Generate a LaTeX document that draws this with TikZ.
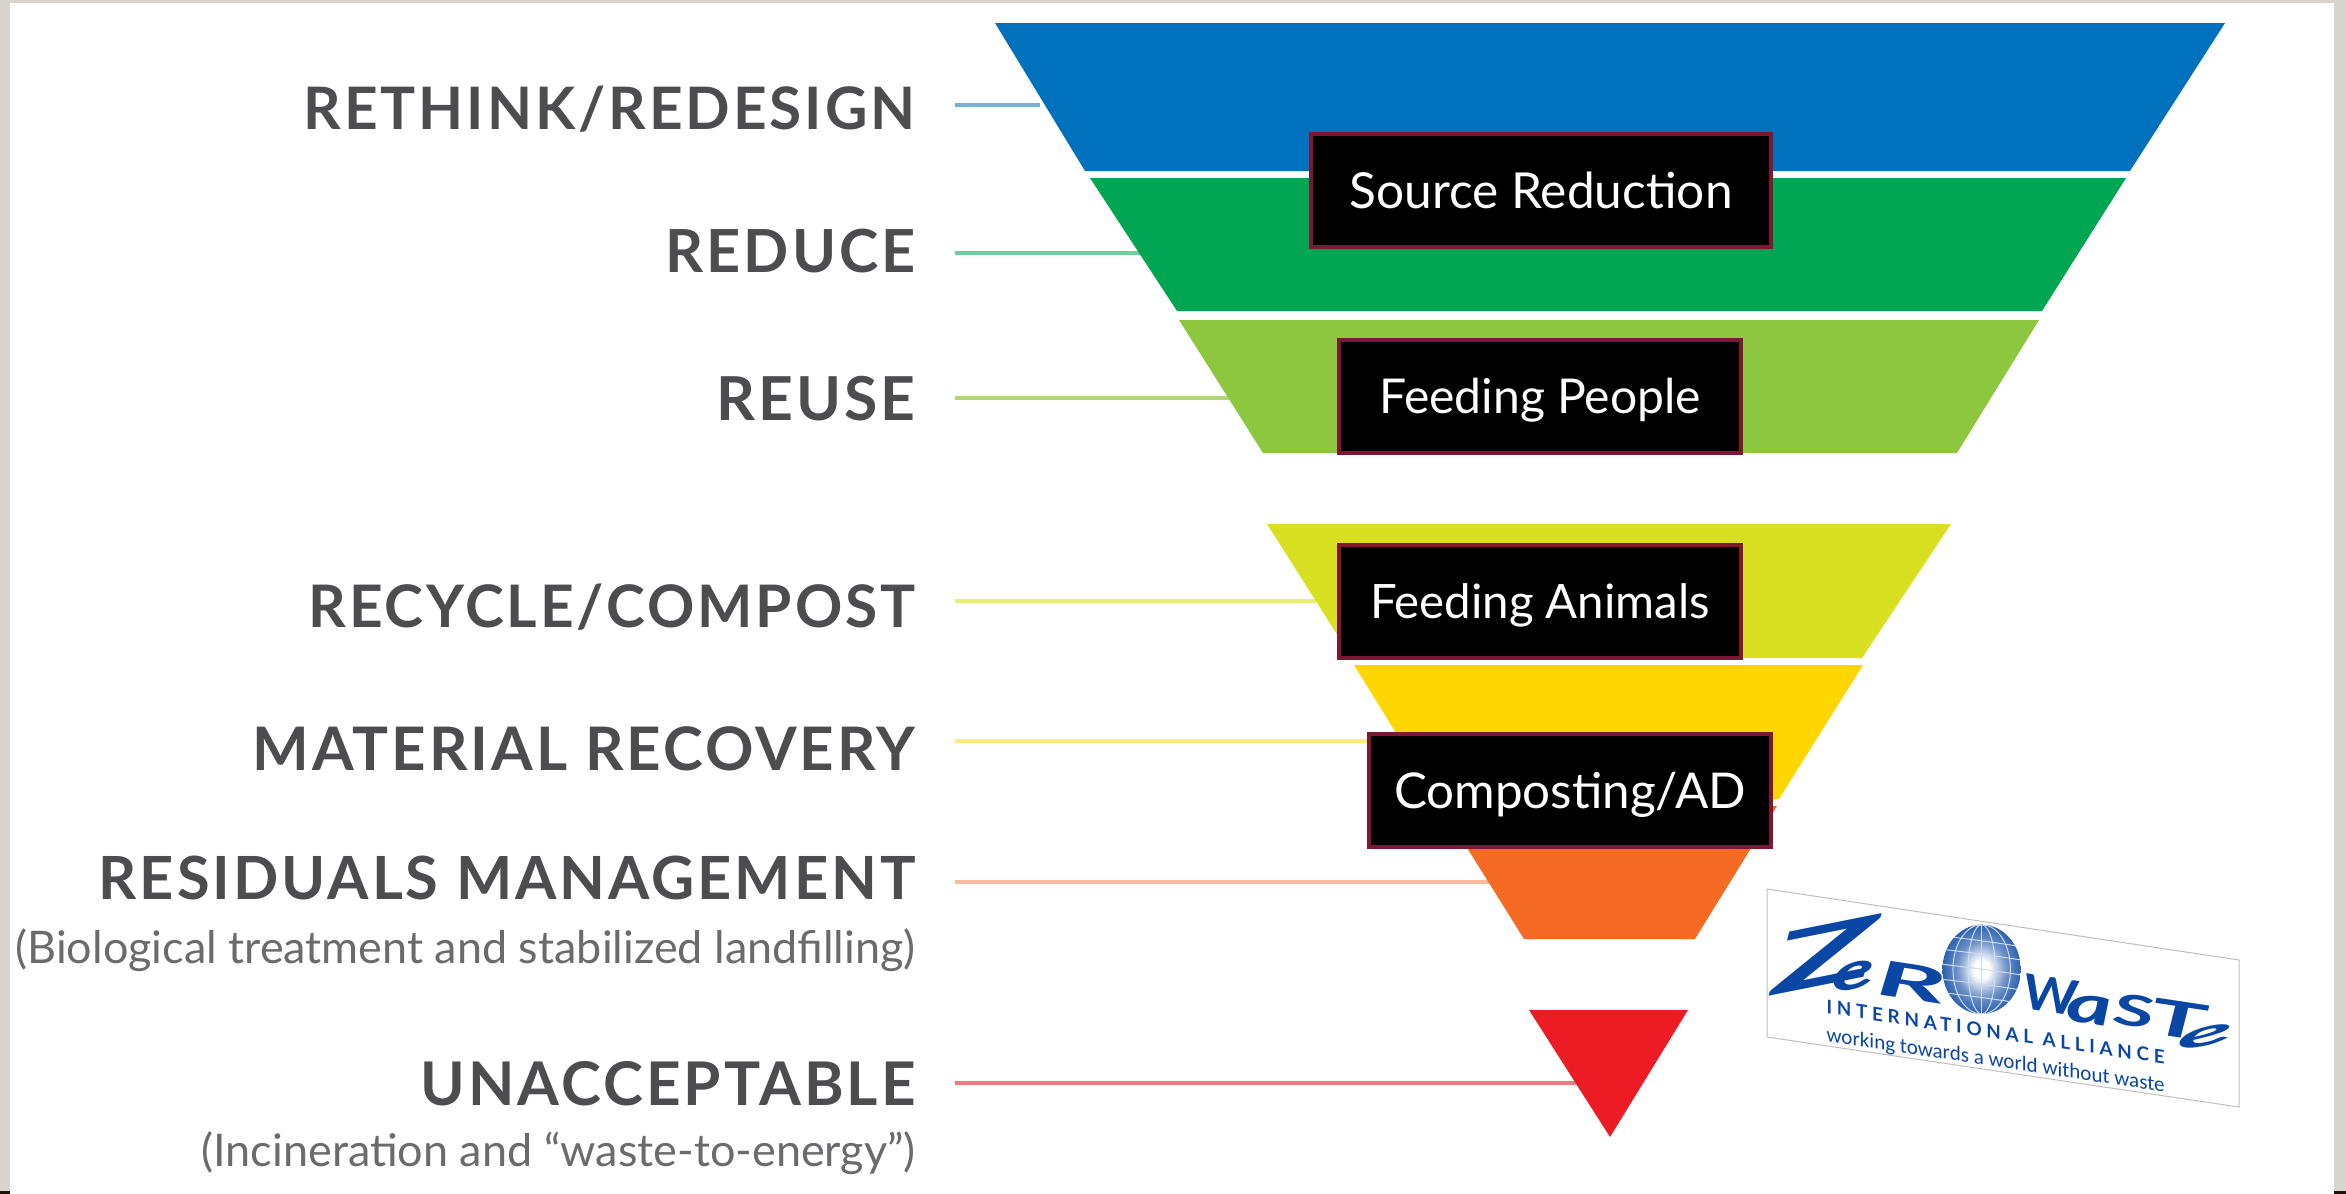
\documentclass[tikz,border=0pt]{standalone}
\usepackage{fontspec}
\usepackage{graphicx}
\setmainfont{Lato}
\newfontfamily\labfont[LetterSpace=5]{Lato}
\newfontfamily\intlfont[LetterSpace=25]{Lato}
\newfontfamily\workfont{Carlito}
\definecolor{cblue}{HTML}{0071BC}
\definecolor{cgreen}{HTML}{00A651}
\definecolor{clime}{HTML}{8DC63F}
\definecolor{cyg}{HTML}{D9E021}
\definecolor{cyel}{HTML}{FFD600}
\definecolor{cora}{HTML}{F56B23}
\definecolor{cred}{HTML}{ED1C24}
\definecolor{cborder}{HTML}{7F1734}
\definecolor{strip}{HTML}{D8D5CF}
\definecolor{labgray}{HTML}{4D4D4F}
\definecolor{subgray}{HTML}{6B6B6D}
\definecolor{logoblue}{HTML}{0A47A5}
\pgfdeclareradialshading{globeball}{\pgfpoint{0bp}{0bp}}{color(0bp)=(white); color(5bp)=(white); color(16bp)=(logoblue!60); color(30bp)=(logoblue); color(50bp)=(logoblue)}
\newcommand{\biglab}[4]{\node[anchor=base east,inner sep=0pt,text=labgray] (#1) at (916,#2) {\resizebox{\dimexpr #3pt/2\relax}{!}{\labfont\fontsize{26}{30}\selectfont\bfseries #4}};}
\newcommand{\sublab}[4]{\node[anchor=base east,inner sep=0pt,text=subgray] (#1) at (916,#2) {\resizebox{\dimexpr #3pt/2\relax}{!}{\fontsize{20}{24}\selectfont #4}};}
\newcommand{\blackbox}[7]{\node[boxstyle,minimum width=#4*0.5pt,minimum height=#5*0.5pt] (#1) at (#2,#3) {\resizebox{\dimexpr #6pt/2\relax}{!}{\fontsize{27}{32}\selectfont #7}};}
% name, glyph, x0, x1, y0, y1, skew, font switches
\newcommand{\logoletter}[8]{\pgfmathsetlengthmacro\lw{(#4-#3)*0.169pt}\pgfmathsetlengthmacro\lh{(#6-#5)*0.1667pt}\node[letterstyle,cm={1,#7,0,1,(0,0)}] (#1) at ({(#3+#4)/2},{(#5+#6)/2}) {\resizebox{\lw}{\lh}{#8{}#2}};}
\tikzset{
  boxstyle/.style={draw=cborder,line width=2pt,fill=black,text=white,inner sep=0pt,text depth=0pt},
  leader/.style={line width=1.6pt},
  letterstyle/.style={inner sep=0pt,text=logoblue},
  globeline/.style={white!80!logoblue,line width=0.5pt},
}
\begin{document}
\begin{tikzpicture}[x=0.5pt,y=-0.5pt]
\useasboundingbox (0,0) rectangle (2346,1194);
\fill[white] (0,0) rectangle (2346,1194);
% slide frame
\fill[strip] (0,0) rectangle (10,1194);
\fill[strip] (2334,0) rectangle (2346,1194);
\fill[strip] (0,0) rectangle (2346,3);
\fill[black!85!brown] (0,1191) rectangle (10,1194);
\fill[black!85!brown] (2334,1191) rectangle (2346,1194);
% leader end points
\coordinate (l1a) at (955,105);  \coordinate (l1b) at (1040,105);
\coordinate (l2a) at (955,253);  \coordinate (l2b) at (1140,253);
\coordinate (l3a) at (955,398);  \coordinate (l3b) at (1240,398);
\coordinate (l4a) at (955,601);  \coordinate (l4b) at (1340,601);
\coordinate (l5a) at (955,741);  \coordinate (l5b) at (1400,741);
\coordinate (l6a) at (955,882);  \coordinate (l6b) at (1500,882);
\coordinate (l7a) at (955,1083); \coordinate (l7b) at (1600,1083);
\draw[leader,cblue!55]  (l1a) -- (l1b);
\draw[leader,cgreen!55] (l2a) -- (l2b);
\draw[leader,clime!70]  (l3a) -- (l3b);
\draw[leader,cyg!60]    (l4a) -- (l4b);
\draw[leader,cyel!50]   (l5a) -- (l5b);
\draw[leader,cora!45]   (l6a) -- (l6b);
\draw[leader,cred!60]   (l7a) -- (l7b);
% funnel
\fill[cblue]  (995,23) -- (2225,23) -- (2130,171) -- (1085,171) -- cycle;
\fill[cgreen] (1090,178) -- (2126,178) -- (2042,311) -- (1177,311) -- cycle;
\fill[clime]  (1179,320) -- (2039,320) -- (1957,453) -- (1263,453) -- cycle;
\fill[cyg]    (1267,524) -- (1951,524) -- (1862,658) -- (1352,658) -- cycle;
\fill[cyel]   (1354,665) -- (1863,665) -- (1779,799) -- (1437,799) -- cycle;
\fill[cora]   (1441,806) -- (1777,806) -- (1695,939) -- (1524,939) -- cycle;
\fill[cred]   (1529,1010) -- (1688,1010) -- (1610,1137) -- cycle;
% labels
\biglab{t1}{129}{612}{RETHINK/REDESIGN}
\biglab{t2}{272}{250}{REDUCE}
\biglab{t3}{420}{199}{REUSE}
\biglab{t4}{627}{607}{RECYCLE/COMPOST}
\biglab{t5}{770}{663}{MATERIAL RECOVERY}
\biglab{t6}{899}{817}{RESIDUALS MANAGEMENT}
\sublab{s6}{963}{900}{(Biological treatment and stabilized landfilling)}
\biglab{t7}{1105}{495}{UNACCEPTABLE}
\sublab{s7}{1166}{714}{(Incineration and “waste-to-energy”)}
% black boxes
\blackbox{b1}{1541}{190}{460}{113}{383}{Source Reduction}
\blackbox{b2}{1540}{396}{402}{113}{322}{Feeding People}
\blackbox{b3}{1540}{601}{402}{113}{340}{Feeding Animals}
\blackbox{b4}{1570}{790}{402}{113}{352}{Composting/AD}
% logo
\fill[white] (1767,889) -- (2239,960) -- (2239,1107) -- (1767,1037) -- cycle;
\draw[black!25,line width=0.5pt] (1767,1037) -- (1767,889) -- (2239,960) -- (2239,1107) -- (1767,1037);
\begin{scope}[shift={(1740,870)},x=0.169pt,y=-0.1667pt]
  \logoletter{zz}{Z}{95}{405}{165}{345}{0.2}{\bfseries\itshape}
  \logoletter{ze}{e}{275}{400}{278}{358}{0.2}{\bfseries\itshape}
  \logoletter{zr}{R}{405}{610}{282}{388}{-0.15}{\bfseries\itshape}
  \logoletter{zw}{W}{840}{1000}{322}{428}{-0.15}{\bfseries\itshape}
  \logoletter{za}{a}{965}{1100}{376}{461}{-0.15}{\bfseries\itshape}
  \logoletter{zs}{S}{1105}{1225}{375}{470}{-0.15}{\bfseries\itshape}
  \logoletter{zt}{T}{1215}{1380}{393}{502}{-0.15}{\bfseries\itshape}
  \logoletter{zf}{e}{1295}{1460}{472}{528}{0.2}{\bfseries\itshape}
  % globe
  \begin{scope}
    \clip (715,298) ellipse (116 and 134);
    \shade[shading=globeball] (599,164) rectangle (831,432);
    \draw[globeline] (715,298) ellipse (40 and 134);
    \draw[globeline] (715,298) ellipse (85 and 134);
    \draw[globeline] (715,160) -- (715,440);
    \foreach \dd in {-85,-45,0,45,85}
      \draw[globeline] (590,{298+\dd-16}) .. controls (680,{298+\dd-6}) and (750,{298+\dd+4}) .. (840,{298+\dd+18});
  \end{scope}
  \node[letterstyle,cm={1,-0.15,0,1,(0,0)},anchor=base west] (intl) at (255,430) {\resizebox{169pt}{!}{\intlfont\fontsize{20}{24}\selectfont\bfseries INTERNATIONAL ALLIANCE}};
  \node[letterstyle,cm={1,-0.15,0,1,(0,0)},anchor=base west] (work) at (255,514) {\resizebox{169pt}{!}{\workfont\fontsize{20}{24}\selectfont working towards a world without waste}};
\end{scope}
\end{tikzpicture}
\end{document}
